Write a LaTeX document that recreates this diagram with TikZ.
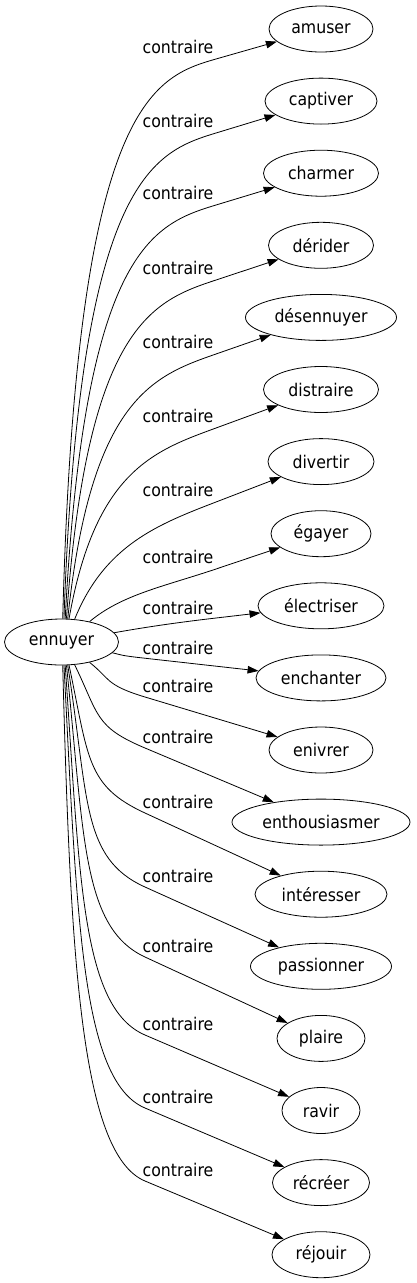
\documentclass[tikz,border=0pt]{standalone}
\usepackage{fontspec}
\setmainfont{DejaVu Sans Condensed}
\usetikzlibrary{arrows.meta,shapes.geometric,calc}

\tikzset{
  mot/.style={draw,ellipse,inner sep=0pt,minimum height=46pt,
    line width=0.8pt,font=\fontsize{17.5}{20}\selectfont},
  rel/.style={inner sep=0pt,font=\fontsize{17.5}{20}\selectfont},
  lien/.style={line width=0.8pt,-{Triangle[length=11pt,width=7.5pt]}},
}

\begin{document}
\begin{tikzpicture}[x=1pt,y=1pt]
  \useasboundingbox (0,0) rectangle (416,-1283);
  \node[mot,minimum width=114pt] (ennuyer) at (61.5,-642) {ennuyer};
  % one antonym per row: name, width, label y, bend point, anchor, out angle, pulls
  \foreach \i/\mot/\w/\yl/\wx/\wy/\ang/\dir/\la/\lb in {
      0/amuser/104/47/216/12/87/88.5/515/66,
      1/captiver/112/121/216/12/84/88/440/66,
      2/charmer/115/193/216/12/81/87/370/66,
      3/dérider/105/268/216/12/78/86/295/66,
      4/désennuyer/151/342/216/12/75/84/222/66,
      5/distraire/115/416/216/12/72/80/150/66,
      6/divertir/106/490/216/12/60/68/80/62,
      7/égayer/100/557/216/12/36/40/42/55,
      8/électriser/126/608/216/10/10/10/28/45,
      9/enchanter/130/648/143/10/-12/-12/10/25,
      10/enivrer/104/686/145/11/-36/-38/26/42,
      11/enthousiasmer/178/737/145/11/-60/-64/56/55,
      12/intéresser/132/802/145/11/-72/-78/95/65,
      13/passionner/141/876/145/11/-75/-81/135/70,
      14/plaire/88/946/145/11/-78/-84/170/70,
      15/ravir/78/1024/145/11/-81/-86/210/70,
      16/récréer/97/1097/145/11/-84/-87/250/70,
      17/réjouir/98/1170/145/11/-87/-88.5/290/70}
  {
    \node[mot,minimum width=\w pt] (n\i) at (321,{-29-72.1*\i}) {\mot};
    \node[rel] (lab\i) at (178,-\yl) {contraire};
    \coordinate (w\i) at (\wx,{-\yl-\wy});
    \draw[lien] (ennuyer.\ang) .. controls +(\dir:\la) and ($(w\i)!-\lb pt!(n\i)$) .. (w\i) -- (n\i);
  }
\end{tikzpicture}
\end{document}
